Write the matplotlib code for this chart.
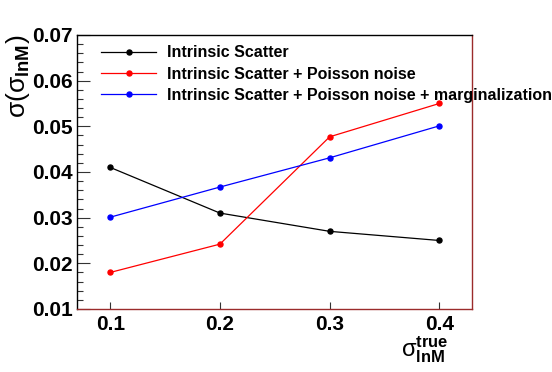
import numpy as np
import matplotlib
matplotlib.use("Agg")
import matplotlib.pyplot as plt
from matplotlib.ticker import MultipleLocator, FormatStrFormatter

plt.rcParams["font.family"] = ["Liberation Sans", "DejaVu Sans"]
plt.rcParams["mathtext.fontset"] = "custom"
plt.rcParams["mathtext.rm"] = "Liberation Sans"
plt.rcParams["mathtext.it"] = "Liberation Sans"
plt.rcParams["mathtext.bf"] = "Liberation Sans:bold"

# data
sigma_true = [0.1, 0.2, 0.3, 0.4]
intrinsic = [0.041, 0.031, 0.027, 0.025]
poisson = [0.018, 0.0242, 0.0477, 0.055]
marginal = [0.0301, 0.0367, 0.0431, 0.0501]
labels = ["Intrinsic Scatter",
          "Intrinsic Scatter + Poisson noise",
          "Intrinsic Scatter + Poisson noise + marginalization"]

fig = plt.figure(figsize=(5.52, 3.72), dpi=100)
ax = fig.add_axes([0.140, 0.1694, 0.7156, 0.7366])

for y, c, lab in zip([intrinsic, poisson, marginal], ["black", "red", "blue"], labels):
    ax.plot(sigma_true, y, color=c, lw=0.9, marker="o", ms=3.6, label=lab)

ax.set_xlim(0.07, 0.43)
ax.set_ylim(0.01, 0.07)
ax.xaxis.set_major_locator(MultipleLocator(0.1))
ax.yaxis.set_major_locator(MultipleLocator(0.01))
ax.yaxis.set_minor_locator(MultipleLocator(0.002))
ax.xaxis.set_major_formatter(FormatStrFormatter("%.1f"))
ax.yaxis.set_major_formatter(FormatStrFormatter("%.2f"))
ax.tick_params(axis="both", which="both", direction="in", top=False, right=False,
               color="#333333", width=0.8)
ax.tick_params(axis="y", which="major", length=9, pad=3, labelsize=15)
ax.tick_params(axis="y", which="minor", length=4.5)
ax.tick_params(axis="x", which="major", length=5, pad=4, labelsize=15)
for lab in ax.get_xticklabels() + ax.get_yticklabels():
    lab.set_fontweight("bold")

for s in ["left", "top"]:
    ax.spines[s].set_color("black")
for s in ["bottom", "right"]:
    ax.spines[s].set_color("#9b2b2b")
for s in ax.spines.values():
    s.set_linewidth(1.0)

leg = ax.legend(loc="upper left", bbox_to_anchor=(0.045, 0.985), frameon=False,
                prop={"family": "Liberation Sans", "weight": "bold", "size": 11.5},
                handlelength=3.4, handletextpad=0.68, labelspacing=0.38,
                borderaxespad=0, markerscale=1.0)

fig.text(0.033, 0.906, r"$\mathrm{σ(σ}_{\mathbf{lnM}}\mathrm{)}$", rotation=90,
         ha="center", va="top", fontsize=19)
fig.text(0.812, 0.018, r"$\mathrm{σ}^{\mathbf{true}}_{\mathbf{lnM}}$",
         ha="right", va="bottom", fontsize=17)

fig.savefig("out.png", dpi=100)
